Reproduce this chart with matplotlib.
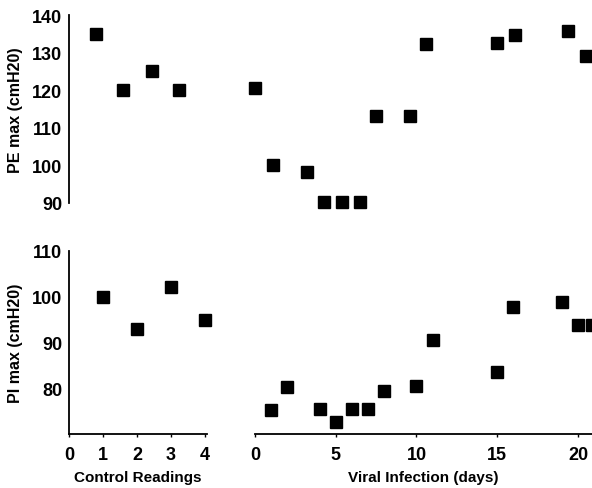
import matplotlib
matplotlib.use("Agg")
import matplotlib.pyplot as plt

# Data
pe_ctrl_x = [0.8, 1.6, 2.45, 3.25]
pe_ctrl_y = [135, 120, 125, 120]
pe_viral_x = [0, 1.1, 3.2, 4.3, 5.4, 6.5, 7.5, 9.6, 10.6, 15, 16.1, 19.4, 20.5]
pe_viral_y = [120.7, 100.1, 98.2, 90.3, 90.3, 90.3, 113.1, 113.1, 132.3, 132.5, 134.7, 135.7, 129.1]

pi_ctrl_x = [1, 2, 3, 4]
pi_ctrl_y = [100, 93, 102.2, 95]
pi_viral_x = [1, 2, 4, 5, 6, 7, 8, 10, 11, 15, 16, 19, 20, 20.9]
pi_viral_y = [75.4, 80.4, 75.6, 72.8, 75.6, 75.6, 79.6, 80.7, 90.7, 83.7, 97.8, 98.9, 93.9, 93.9]

ctrl_ticks = [0, 1, 2, 3, 4]
viral_ticks = [0, 5, 10, 15, 20]
pe_ticks = [90, 100, 110, 120, 130, 140]
pi_ticks = [80, 90, 100, 110]

plt.rcParams['font.family'] = ['Liberation Sans', 'DejaVu Sans']
plt.rcParams['font.weight'] = 'bold'

W, H = 592, 489
fig = plt.figure(figsize=(W / 100, H / 100), dpi=100)

def ax_rect(x0, y0, x1, y1):
    return [x0 / W, 1 - y1 / H, (x1 - x0) / W, (y1 - y0) / H]

ax_tl = fig.add_axes(ax_rect(69, 16, 207, 204))
ax_tr = fig.add_axes(ax_rect(255, 16, 592, 204))
ax_bl = fig.add_axes(ax_rect(69, 252, 207, 435))
ax_br = fig.add_axes(ax_rect(255, 252, 592, 435))

mk = dict(marker='s', ms=8, color='black', linestyle='none', clip_on=False)

ax_tl.plot(pe_ctrl_x, pe_ctrl_y, **mk)
ax_tr.plot(pe_viral_x, pe_viral_y, **mk)
ax_bl.plot(pi_ctrl_x, pi_ctrl_y, **mk)
ax_br.plot(pi_viral_x, pi_viral_y, **mk)

for ax in (ax_tl, ax_bl):
    ax.set_xlim(0, 4.06)
for ax in (ax_tr, ax_br):
    ax.set_xlim(0, 20.87)
for ax in (ax_tl, ax_tr):
    ax.set_ylim(90, 140)
for ax in (ax_bl, ax_br):
    ax.set_ylim(70.2, 110)

for ax in (ax_tl, ax_tr, ax_bl, ax_br):
    for s in ax.spines.values():
        s.set_visible(False)
    ax.set_facecolor('none')
    ax.tick_params(length=0, labelsize=13)

for ax, ticks in ((ax_tl, pe_ticks), (ax_bl, pi_ticks)):
    ax.spines['left'].set_visible(True)
    ax.spines['left'].set_linewidth(1.3)
    ax.set_yticks(ticks)
    ax.tick_params(axis='y', pad=5)
for ax in (ax_tr, ax_br):
    ax.set_yticks([])
ax_tl.set_xticks([])
ax_tr.set_xticks([])

for ax, ticks in ((ax_bl, ctrl_ticks), (ax_br, viral_ticks)):
    ax.spines['bottom'].set_visible(True)
    ax.spines['bottom'].set_linewidth(1.3)
    ax.set_xticks(ticks)
    ax.tick_params(axis='x', pad=7, length=2, width=1)

for ax in (ax_tl, ax_tr, ax_bl, ax_br):
    for lab in ax.get_xticklabels() + ax.get_yticklabels():
        lab.set_fontweight('bold')

ax_tl.set_ylabel('PE max (cmH20)', fontsize=11.5, fontweight='bold', labelpad=6)
ax_bl.set_ylabel('PI max (cmH20)', fontsize=11.5, fontweight='bold', labelpad=6)
ax_bl.set_xlabel('Control Readings', fontsize=11, fontweight='bold', labelpad=5)
ax_br.set_xlabel('Viral Infection (days)', fontsize=11, fontweight='bold', labelpad=5)

fig.savefig('out.png', dpi=100)
